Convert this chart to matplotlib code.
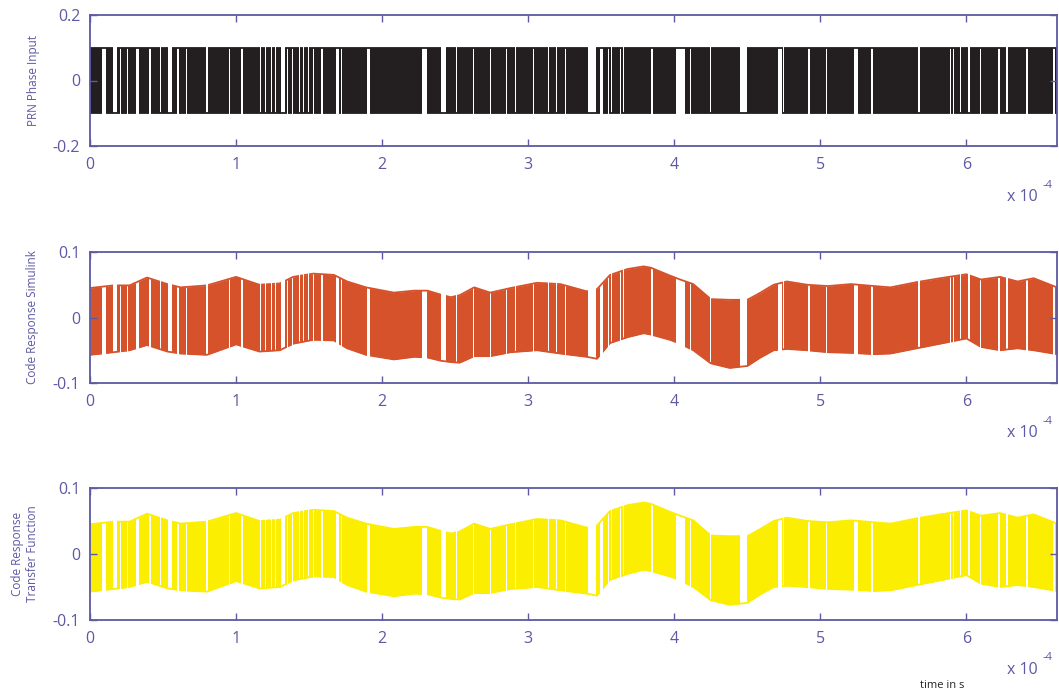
import matplotlib
matplotlib.use("Agg")
import matplotlib.pyplot as plt
from matplotlib.path import Path
from matplotlib.patches import PathPatch

plt.rcParams["font.family"] = ["Open Sans", "DejaVu Sans"]

W, H = 1059, 694
AX_COLOR = "#5d59a3"

# time axis is in units of 1e-4 s
x_max = 6.62
x_ticks = [0, 1, 2, 3, 4, 5, 6]
prn_amp = 0.1

# long runs of the PRN code, where the level is held (white gaps in the plot)
gap_start = [0.082, 0.157, 0.203, 0.254, 0.312, 0.404, 0.477, 0.534, 0.593, 0.654,
             0.796, 0.951, 1.031, 1.162, 1.201, 1.242, 1.264, 1.305, 1.349, 1.386,
             1.428, 1.455, 1.492, 1.526, 1.579, 1.682, 1.721, 1.894, 2.276, 2.401,
             2.508, 2.623, 2.736, 2.851, 2.908, 3.033, 3.136, 3.193, 3.250, 3.406,
             3.490, 3.547, 3.570, 3.627, 3.650, 3.840, 4.011, 4.109, 4.244, 4.358,
             4.449, 4.707, 4.746, 4.913, 5.038, 5.232, 5.346, 5.666, 5.886, 5.909,
             5.955, 6.009, 6.092, 6.214, 6.271, 6.408, 6.591]
gap_end = [0.110, 0.186, 0.210, 0.262, 0.338, 0.418, 0.484, 0.560, 0.608, 0.661,
           0.809, 0.959, 1.046, 1.169, 1.208, 1.249, 1.271, 1.332, 1.356, 1.393,
           1.435, 1.462, 1.499, 1.533, 1.594, 1.708, 1.728, 1.918, 2.306, 2.440,
           2.514, 2.629, 2.746, 2.858, 2.914, 3.042, 3.142, 3.199, 3.256, 3.464,
           3.510, 3.553, 3.576, 3.633, 3.656, 3.854, 4.071, 4.117, 4.250, 4.364,
           4.496, 4.734, 4.753, 4.928, 5.046, 5.259, 5.361, 5.681, 5.893, 5.916,
           5.962, 6.023, 6.099, 6.229, 6.286, 6.423, 6.606]
gap_level = [1, -1, 1, 1, 1, 1, -1, -1, 1, 1,
             -1, 1, 1, -1, -1, -1, -1, -1, 1, 1,
             -1, -1, -1, 1, 1, 1, 1, 1, 1, -1,
             -1, 1, 1, 1, -1, 1, -1, -1, 1, -1,
             1, 1, -1, 1, -1, 1, 1, 1, -1, 1,
             -1, 1, -1, 1, 1, 1, 1, -1, 1, 1,
             -1, -1, 1, 1, -1, 1, 1]

# upper / lower envelope of the filtered code response
env_t = [0.00, 0.16, 0.27, 0.39, 0.53, 0.62, 0.80, 1.00, 1.16, 1.30,
         1.39, 1.53, 1.67, 1.76, 1.89, 2.08, 2.22, 2.31, 2.40, 2.47,
         2.53, 2.63, 2.74, 2.88, 3.06, 3.22, 3.40, 3.47, 3.56, 3.68,
         3.79, 3.84, 3.97, 4.04, 4.13, 4.25, 4.38, 4.50, 4.59, 4.68,
         4.77, 4.91, 5.05, 5.21, 5.37, 5.48, 5.66, 5.82, 6.00, 6.10,
         6.23, 6.35, 6.46, 6.62]
env_hi = [0.045, 0.049, 0.049, 0.061, 0.051, 0.046, 0.049, 0.062, 0.050, 0.052,
          0.062, 0.067, 0.065, 0.055, 0.046, 0.038, 0.041, 0.041, 0.035, 0.031,
          0.034, 0.046, 0.038, 0.045, 0.053, 0.051, 0.040, 0.043, 0.065, 0.074,
          0.078, 0.076, 0.064, 0.058, 0.051, 0.028, 0.027, 0.027, 0.038, 0.050,
          0.055, 0.050, 0.048, 0.051, 0.048, 0.046, 0.054, 0.060, 0.066, 0.058,
          0.062, 0.055, 0.060, 0.046]
env_lo = [-0.057, -0.053, -0.050, -0.042, -0.052, -0.055, -0.057, -0.041, -0.052, -0.050,
          -0.040, -0.034, -0.035, -0.047, -0.057, -0.064, -0.060, -0.061, -0.066, -0.068,
          -0.069, -0.059, -0.059, -0.053, -0.050, -0.055, -0.060, -0.063, -0.039, -0.030,
          -0.024, -0.026, -0.034, -0.040, -0.050, -0.070, -0.077, -0.074, -0.061, -0.050,
          -0.048, -0.050, -0.053, -0.054, -0.056, -0.055, -0.047, -0.040, -0.032, -0.045,
          -0.050, -0.047, -0.050, -0.056]

panel_labels = ["PRN Phase Input", "Code Response Simulink", "Code Response\nTransfer Function"]
panel_colors = ["#231f20", "#d5522b", "#fcee00"]
panel_ylim = [0.2, 0.1, 0.1]


def spans_path(starts, ends):
    verts, codes = [], []
    for a, b in zip(starts, ends):
        verts += [(a, -1), (b, -1), (b, 1), (a, 1), (a, -1)]
        codes += [Path.MOVETO, Path.LINETO, Path.LINETO, Path.LINETO, Path.CLOSEPOLY]
    return Path(verts, codes)


def complement(starts, ends):
    s, e = [-1.0], []
    for a, b in sorted(zip(starts, ends)):
        e.append(a)
        s.append(b)
    e.append(x_max + 1)
    return s, e


dense = complement(gap_start, gap_end)
keep_hi = complement([a for a, l in zip(gap_start, gap_level) if l < 0],
                     [b for b, l in zip(gap_end, gap_level) if l < 0])
keep_lo = complement([a for a, l in zip(gap_start, gap_level) if l > 0],
                     [b for b, l in zip(gap_end, gap_level) if l > 0])


def draw_code(ax, t, hi, lo, color):
    band = ax.fill_between(t, lo, hi, color=color, lw=0)
    band.set_clip_path(PathPatch(spans_path(*dense), transform=ax.transData))
    l1, = ax.plot(t, hi, color=color, lw=1.3)
    l1.set_clip_path(PathPatch(spans_path(*keep_hi), transform=ax.transData))
    l2, = ax.plot(t, lo, color=color, lw=1.3)
    l2.set_clip_path(PathPatch(spans_path(*keep_lo), transform=ax.transData))


def px(x, y):
    return x / W, 1 - y / H


fig = plt.figure(figsize=(W / 100, H / 100), dpi=100)

# axes boxes in pixels: top, bottom
boxes = [(15, 146), (252, 383), (488, 620)]
left, right = 90, 1057
axes = []
for (top, bot) in boxes:
    ax = fig.add_axes([left / W, 1 - bot / H, (right - left) / W, (bot - top) / H])
    axes.append(ax)

draw_code(axes[0], [0, x_max], [prn_amp, prn_amp], [-prn_amp, -prn_amp], panel_colors[0])
draw_code(axes[1], env_t, env_hi, env_lo, panel_colors[1])
draw_code(axes[2], env_t, env_hi, env_lo, panel_colors[2])

label_x = [33, 33, 25]
for i, ax in enumerate(axes):
    lim = panel_ylim[i]
    ax.set_xlim(0, x_max)
    ax.set_ylim(-lim, lim)
    ax.set_xticks(x_ticks)
    ax.set_yticks([-lim, 0, lim])
    ax.set_yticklabels([f"{-lim:g}", "0", f"{lim:g}"])
    ax.tick_params(direction="in", colors=AX_COLOR, labelcolor=AX_COLOR,
                   labelsize=11.5, length=5, width=1, top=True, right=True)
    ax.tick_params(axis="x", pad=8)
    ax.tick_params(axis="y", pad=7)
    for s in ax.spines.values():
        s.set_color(AX_COLOR)
        s.set_linewidth(1.3)
    top, bot = boxes[i]
    fig.text(*px(label_x[i], (top + bot) / 2), panel_labels[i], color=AX_COLOR,
             fontsize=8.5, rotation=90, ha="center", va="center",
             multialignment="center", linespacing=1.25)

# exponent notes under each panel
for y in [197, 433, 670]:
    fig.text(*px(1007, y), "x 10", color=AX_COLOR, fontsize=11.5, va="center", ha="left")
    fig.text(*px(1043, y - 12), "-4", color=AX_COLOR, fontsize=8, va="center", ha="left")

fig.text(*px(942, 686), "time in s", color="#222222", fontsize=8, va="center", ha="center")

fig.savefig("out.png", dpi=100)
